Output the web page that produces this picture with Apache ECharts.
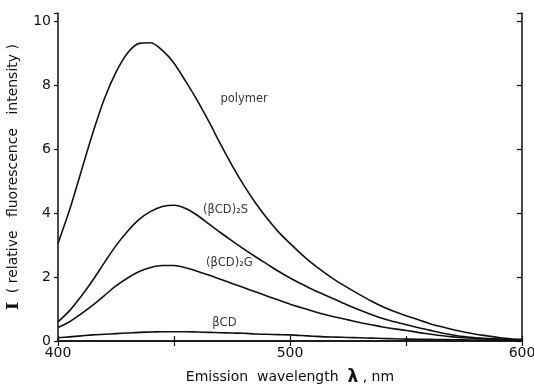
<!DOCTYPE html>
<html>
<head>
<meta charset="utf-8">
<script src="https://cdn.jsdelivr.net/npm/echarts@6/dist/echarts.min.js"></script>
<style>
  html, body { margin: 0; padding: 0; background: #fff; }
  .chart { width: 534px; height: 386px; }
</style>
</head>
<body>
<div class="chart"></div>
<script>
// emission wavelength grid (nm), every 5 nm
const wavelengths = [400, 405, 410, 415, 420, 425, 430, 435, 440, 445, 450, 455, 460, 465, 470, 475, 480, 485, 490, 495, 500,
  505, 510, 515, 520, 525, 530, 535, 540, 545, 550, 555, 560, 565, 570, 575, 580, 585, 590, 595, 600];
// relative fluorescence intensity
const polymer = [3.05, 4.1, 5.3, 6.5, 7.57, 8.4, 9.0, 9.3, 9.32, 9.08, 8.68, 8.12, 7.52, 6.86, 6.16, 5.49, 4.88, 4.33, 3.84, 3.41, 3.05,
  2.71, 2.4, 2.13, 1.88, 1.66, 1.45, 1.25, 1.07, 0.92, 0.79, 0.67, 0.55, 0.45, 0.36, 0.28, 0.21, 0.16, 0.11, 0.07, 0.05];
const bcd2S = [0.6, 0.95, 1.4, 1.9, 2.45, 2.98, 3.43, 3.8, 4.05, 4.2, 4.24, 4.14, 3.93, 3.66, 3.39, 3.13, 2.88, 2.64, 2.41, 2.18, 1.97,
  1.78, 1.6, 1.44, 1.28, 1.12, 0.97, 0.83, 0.7, 0.6, 0.51, 0.42, 0.34, 0.26, 0.19, 0.14, 0.1, 0.08, 0.06, 0.04, 0.03];
const bcd2G = [0.42, 0.6, 0.85, 1.12, 1.42, 1.72, 1.97, 2.17, 2.3, 2.36, 2.36, 2.29, 2.18, 2.06, 1.93, 1.8, 1.67, 1.54, 1.41, 1.28, 1.15,
  1.04, 0.93, 0.83, 0.74, 0.66, 0.58, 0.51, 0.44, 0.38, 0.33, 0.27, 0.22, 0.17, 0.13, 0.1, 0.08, 0.06, 0.05, 0.04, 0.03];
const bcd = [0.1, 0.13, 0.16, 0.19, 0.21, 0.23, 0.25, 0.27, 0.28, 0.29, 0.29, 0.29, 0.28, 0.27, 0.26, 0.25, 0.24, 0.22, 0.21, 0.2, 0.19,
  0.17, 0.15, 0.13, 0.12, 0.11, 0.1, 0.09, 0.08, 0.07, 0.06, 0.055, 0.05, 0.045, 0.04, 0.035, 0.03, 0.025, 0.02, 0.015, 0.01];
// curve labels: text and anchor (wavelength, intensity)
const labelTexts = ['polymer', '(βCD)₂S', '(βCD)₂G', 'βCD'];
const labelAnchors = [[470, 7.55], [462.5, 4.08], [463.8, 2.45], [466.5, 0.57]];

const FONT = 'DejaVu Sans';
const pairs = (ys) => wavelengths.map((x, i) => [x, ys[i]]);

const curve = (name, ys) => ({
  name: name,
  type: 'line',
  data: pairs(ys),
  smooth: 0.3,
  symbol: 'none',
  lineStyle: { color: '#111', width: 1.6 },
  z: 3,
});

const chart = echarts.init(document.querySelector('.chart'));
chart.setOption({
  animation: false,
  backgroundColor: '#fff',
  grid: { left: 58, right: 12, top: 13, bottom: 45, outerBoundsMode: 'none', containLabel: false },
  xAxis: [
    {
      type: 'value', min: 400, max: 600, interval: 50,
      name: 'Emission  wavelength  {l|λ} , nm',
      nameLocation: 'middle', nameGap: 28,
      nameTextStyle: {
        fontFamily: FONT, fontSize: 14, color: '#111',
        rich: { l: { fontFamily: FONT, fontSize: 17, fontWeight: 'bold', color: '#111' } },
      },
      axisLine: { lineStyle: { color: '#111', width: 1.5 } },
      axisTick: { inside: true, length: 5, lineStyle: { color: '#111', width: 1.2 } },
      axisLabel: {
        fontFamily: FONT, fontSize: 14, color: '#111', margin: 5,
        formatter: (v) => (v % 100 === 0 ? String(v) : ''),
      },
      splitLine: { show: false },
    },
    {
      type: 'value', min: 400, max: 600, interval: 50, position: 'top',
      axisLine: { show: true, lineStyle: { color: '#111', width: 1.5 } },
      axisTick: { inside: true, length: 5, lineStyle: { color: '#111', width: 1.2 } },
      axisLabel: { show: false },
      splitLine: { show: false },
    },
  ],
  yAxis: [
    {
      type: 'value', min: 0, max: 10.25, interval: 2,
      name: '{i|I}  ( relative   fluorescence   intensity )',
      nameLocation: 'middle', nameGap: 33,
      nameTextStyle: {
        fontFamily: FONT, fontSize: 14, color: '#111',
        rich: { i: { fontFamily: 'DejaVu Serif', fontSize: 17, fontWeight: 'bold', color: '#111' } },
      },
      axisLine: { show: true, lineStyle: { color: '#111', width: 1.5 } },
      axisTick: { inside: false, length: 4, lineStyle: { color: '#111', width: 1.2 } },
      axisLabel: {
        fontFamily: FONT, fontSize: 14, color: '#111', margin: 7,
        formatter: (v) => (v % 2 === 0 ? String(v) : ''),
      },
      splitLine: { show: false },
    },
    {
      type: 'value', min: 0, max: 10.25, interval: 2, position: 'right',
      axisLine: { show: true, lineStyle: { color: '#111', width: 1.5 } },
      axisTick: { inside: true, length: 5, lineStyle: { color: '#111', width: 1.2 } },
      axisLabel: { show: false },
      splitLine: { show: false },
    },
  ],
  series: [
    curve('polymer', polymer),
    curve('(βCD)2S', bcd2S),
    curve('(βCD)2G', bcd2G),
    curve('βCD', bcd),
    {
      // curve names written beside the lines
      type: 'scatter',
      symbolSize: 0,
      silent: true,
      data: labelAnchors.map((p, i) => ({ value: p, name: labelTexts[i] })),
      label: {
        show: true, position: 'right', distance: 0,
        formatter: (p) => p.name,
        fontFamily: FONT, fontSize: 11.5, color: '#000',
      },
      z: 4,
    },
  ],
});
</script>
</body>
</html>
